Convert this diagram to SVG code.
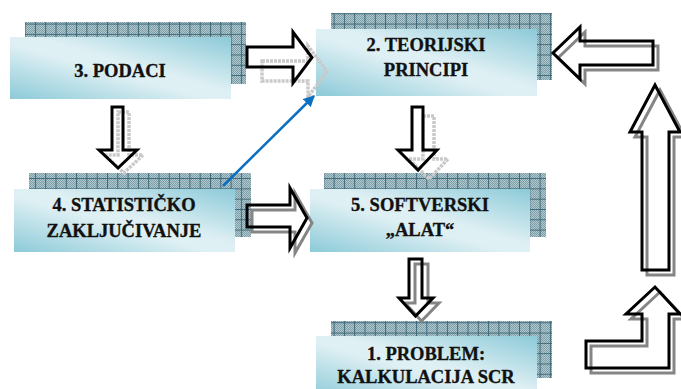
<svg xmlns="http://www.w3.org/2000/svg" width="681" height="389" viewBox="0 0 681 389">
  <defs>
    <!-- fine checker texture behind the grid of each backing panel -->
    <pattern id="chk" width="2" height="2" patternUnits="userSpaceOnUse">
      <rect width="2" height="2" fill="#b1c8ce"/>
      <rect width="1" height="1" fill="#7c9ea8"/>
      <rect x="1" y="1" width="1" height="1" fill="#7c9ea8"/>
    </pattern>
    <pattern id="grid" width="10.3" height="10.3" patternUnits="userSpaceOnUse" x="4" y="3">
      <path d="M0 0.5 H10.3 M0.5 0 V10.3" stroke="#3e6878" stroke-width="1" fill="none"/>
    </pattern>
    <linearGradient id="face" x1="1" y1="0" x2="0" y2="1">
      <stop offset="0" stop-color="#8ccad8"/>
      <stop offset="0.45" stop-color="#dff0f4"/>
      <stop offset="0.55" stop-color="#dff0f4"/>
      <stop offset="1" stop-color="#8ccad8"/>
    </linearGradient>
    <marker id="blueHead" viewBox="0 0 10 10" refX="9" refY="5" markerWidth="4.5" markerHeight="4.5" orient="auto" markerUnits="strokeWidth">
      <path d="M0 0 L10 5 L0 10 z" fill="#0b6fc2"/>
    </marker>
    <style>
      .face { fill: url(#face); }
      .lbl { font-family: "Liberation Serif", "Times New Roman", serif; font-weight: bold; font-size: 18.5px; fill: #111; stroke: #111; stroke-width: 0.35; text-anchor: middle; }
      .arr { fill: none; stroke: #000; stroke-width: 3; stroke-linejoin: miter; }
      .shL { fill: none; stroke: #c9c9c9; stroke-width: 3.5; stroke-dasharray: 3 1; }
      .shD { fill: none; stroke: #858585; stroke-width: 3; }
    </style>
  </defs>

  <rect width="681" height="389" fill="#ffffff"/>

  <!-- 3. PODACI -->
  <g id="node-podaci">
    <rect x="25" y="22" width="221" height="62" fill="url(#chk)"/>
    <rect x="25" y="22" width="221" height="62" fill="url(#grid)"/>
    <rect class="face" x="10" y="37" width="221" height="62"/>
    <text class="lbl" x="120" y="77">3. PODACI</text>
  </g>

  <!-- 2. TEORIJSKI PRINCIPI -->
  <g id="node-teorijski">
    <rect x="331" y="13" width="221" height="67" fill="url(#chk)"/>
    <rect x="331" y="13" width="221" height="67" fill="url(#grid)"/>
    <rect class="face" x="316" y="29" width="221" height="67"/>
    <text class="lbl" x="426" y="51">2. TEORIJSKI</text>
    <text class="lbl" x="426" y="76">PRINCIPI</text>
  </g>

  <!-- 4. STATISTIČKO ZAKLJUČIVANJE -->
  <g id="node-statisticko">
    <rect x="29" y="173" width="222" height="64" fill="url(#chk)"/>
    <rect x="29" y="173" width="222" height="64" fill="url(#grid)"/>
    <rect class="face" x="14" y="189" width="221" height="63"/>
    <text class="lbl" x="124" y="211">4. STATISTIČKO</text>
    <text class="lbl" x="124" y="237">ZAKLJUČIVANJE</text>
  </g>

  <!-- 5. SOFTVERSKI „ALAT“ -->
  <g id="node-softverski">
    <rect x="324" y="173" width="222" height="64" fill="url(#chk)"/>
    <rect x="324" y="173" width="222" height="64" fill="url(#grid)"/>
    <rect class="face" x="310" y="189" width="220" height="63"/>
    <text class="lbl" x="420" y="211">5. SOFTVERSKI</text>
    <text class="lbl" x="420" y="236">„ALAT“</text>
  </g>

  <!-- 1. PROBLEM: KALKULACIJA SCR -->
  <g id="node-problem">
    <rect x="331" y="321" width="221" height="57" fill="url(#chk)"/>
    <rect x="331" y="321" width="221" height="57" fill="url(#grid)"/>
    <rect class="face" x="316" y="336" width="221" height="63"/>
    <text class="lbl" x="426" y="360">1. PROBLEM:</text>
    <text class="lbl" x="426" y="383">KALKULACIJA SCR</text>
  </g>

  <g id="connectors">
    <!-- 3 -> 2 -->
    <polygon class="shL" transform="translate(15,14)" points="247,47 293,47 293,32 312,57.5 293,83 293,67 247,67"/>
    <polygon class="arr" points="247,47 293,47 293,32 312,57.5 293,83 293,67 247,67"/>
    <!-- 3 -> 4 -->
    <polygon class="shL" transform="translate(6,5)" points="112,107 123,107 123,150 137,150 118,168 99,150 112,150"/>
    <polygon class="arr" points="112,107 123,107 123,150 137,150 118,168 99,150 112,150"/>
    <!-- 2 -> 5 -->
    <polygon class="shL" transform="translate(11,9)" points="412,107 423,107 423,150 437,150 418,170 398,150 412,150"/>
    <polygon class="arr" points="412,107 423,107 423,150 437,150 418,170 398,150 412,150"/>
    <!-- 4 -> 5 -->
    <polygon class="shD" transform="translate(5,5)" points="247,205 290,205 290,188 307,218 290,248 290,227 247,227"/>
    <polygon class="arr" points="247,205 290,205 290,188 307,218 290,248 290,227 247,227"/>
    <!-- 5 -> 1 -->
    <polygon class="shD" transform="translate(6,5)" points="409,259 422,259 422,298 433,298 415.5,316 399,298 409,298"/>
    <polygon class="arr" points="409,259 422,259 422,298 433,298 415.5,316 399,298 409,298"/>
    <!-- 1 -> up (bent) -->
    <polygon class="shD" transform="translate(5,5)" points="586,368 586,341 642,341 642,314 626,314 655,287 680,314 669,314 669,368"/>
    <polygon class="arr" points="586,368 586,341 642,341 642,314 626,314 655,287 680,314 669,314 669,368"/>
    <!-- vertical up -->
    <polygon class="shD" transform="translate(5,5)" points="642,270 642,132 630,132 655,85 680,132 669,132 669,270"/>
    <polygon class="arr" points="642,270 642,132 630,132 655,85 680,132 669,132 669,270"/>
    <!-- back into 2 -->
    <polygon class="shD" transform="translate(5,5)" points="653,41 580,41 580,27 553,53 580,79 580,65 653,65"/>
    <polygon class="arr" points="653,41 580,41 580,27 553,53 580,79 580,65 653,65"/>
    <!-- 4 -> 2 (blue) -->
    <line x1="223" y1="186" x2="314" y2="96" stroke="#0b6fc2" stroke-width="2.5" marker-end="url(#blueHead)"/>
  </g>
</svg>
